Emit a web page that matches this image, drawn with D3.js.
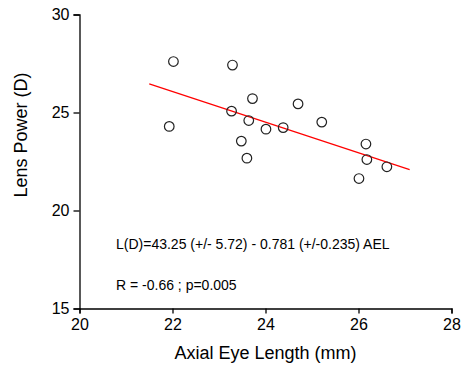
<!DOCTYPE html>
<html>
<head>
<meta charset="utf-8">
<script src="https://cdn.jsdelivr.net/npm/d3@7"></script>
<style>
  body { margin: 0; background: #fff; }
  text { font-family: "Liberation Sans", Arial, sans-serif; fill: #000; }
</style>
</head>
<body>
<svg id="chart" width="462" height="366"></svg>
<script>
// axial eye length (mm) and lens power (D) for each eye
const ael = [22.02, 23.29, 21.93, 23.72, 23.27, 23.64, 24.01, 24.38, 23.48, 23.60, 24.70, 25.21, 26.16, 26.18, 26.61, 26.01]
const lensPower = [27.6, 27.42, 24.29, 25.71, 25.07, 24.59, 24.15, 24.23, 23.54, 22.67, 25.44, 24.51, 23.39, 22.60, 22.23, 21.63]

// regression fit
const intercept = 43.25
const slope = -0.781
const fitRange = [21.5, 27.1]

const xTicks = [20, 22, 24, 26, 28]
const yTicks = [15, 20, 25, 30]
const notes = ['L(D)=43.25 (+/- 5.72) - 0.781 (+/-0.235) AEL', 'R = -0.66 ; p=0.005']

const svg = d3.select('#chart')

const x = d3.scaleLinear().domain([20, 28]).range([79.5, 451.5])
const y = d3.scaleLinear().domain([15, 30]).range([308.5, 14.5])

// Axes
const xAxis = svg.append('g')
	.attr('transform', `translate(0, ${y(15)})`)
	.call(d3.axisBottom(x).tickValues(xTicks).tickSize(5).tickPadding(5))
const yAxis = svg.append('g')
	.attr('transform', `translate(${x(20)}, 0)`)
	.call(d3.axisLeft(y).tickValues(yTicks).tickSize(6).tickPadding(4))

for (const ax of [xAxis, yAxis]) {
	ax.select('.domain').attr('stroke', '#000').attr('stroke-width', 1.3)
	ax.selectAll('.tick line').attr('stroke', '#000').attr('stroke-width', 1.3)
	ax.selectAll('.tick text')
		.attr('font-family', '"Liberation Sans", Arial, sans-serif')
		.attr('font-size', 16)
		.attr('fill', '#000')
}

// Fit line
svg.append('line')
	.attr('x1', x(fitRange[0]))
	.attr('y1', y(intercept + slope * fitRange[0]))
	.attr('x2', x(fitRange[1]))
	.attr('y2', y(intercept + slope * fitRange[1]))
	.attr('stroke', '#ff0000')
	.attr('stroke-width', 1.2)

// Points
svg.append('g')
	.selectAll('circle')
	.data(ael)
	.enter()
	.append('circle')
	.attr('cx', (d) => x(d))
	.attr('cy', (d, i) => y(lensPower[i]))
	.attr('r', 4.8)
	.attr('fill', 'none')
	.attr('stroke', '#222')
	.attr('stroke-width', 1.2)

// Annotations
svg.selectAll('.note')
	.data(notes)
	.enter()
	.append('text')
	.attr('class', 'note')
	.attr('x', 116)
	.attr('y', (d, i) => 249 + i * 41)
	.attr('font-size', 14)
	.text((d) => d)

// Axis titles
svg.append('text')
	.attr('x', (x(20) + x(28)) / 2)
	.attr('y', 359)
	.attr('text-anchor', 'middle')
	.attr('font-size', 18)
	.text('Axial Eye Length (mm)')

svg.append('text')
	.attr('transform', 'translate(27, 135) rotate(-90)')
	.attr('text-anchor', 'middle')
	.attr('font-size', 18)
	.text('Lens Power (D)')
</script>
</body>
</html>
